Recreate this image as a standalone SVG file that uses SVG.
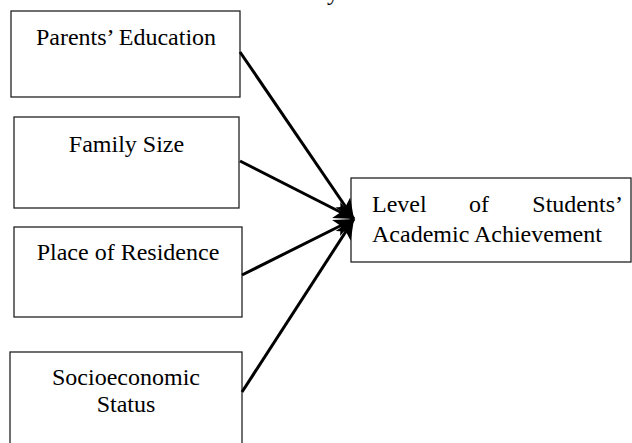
<svg xmlns="http://www.w3.org/2000/svg" width="632" height="443" viewBox="0 0 632 443">
<style>
  .box { fill: #ffffff; stroke: #222222; stroke-width: 1.3; }
  .t { font-family: "Liberation Serif", "Times New Roman", serif; font-size: 24px; fill: #000000; }
  .c { text-anchor: middle; }
  .conn { stroke: #000000; stroke-width: 3; fill: none; marker-end: url(#arr); }
</style>
<defs>
  <marker id="arr" markerUnits="userSpaceOnUse" markerWidth="22" markerHeight="20" refX="20" refY="10" orient="auto">
    <path d="M0,1 L20,10 L0,19 L5,10 Z" fill="#000000"/>
  </marker>
</defs>
<rect width="632" height="443" fill="#ffffff"/>
<text class="t" x="327" y="0">y</text>

<g id="parents-education">
  <rect class="box" x="11" y="11" width="229" height="86"/>
  <text class="t c" x="126" y="45">Parents’ Education</text>
</g>
<g id="family-size">
  <rect class="box" x="14" y="117" width="225" height="91"/>
  <text class="t c" x="126.5" y="152">Family Size</text>
</g>
<g id="place-of-residence">
  <rect class="box" x="14" y="227" width="228" height="90"/>
  <text class="t c" x="128" y="260">Place of Residence</text>
</g>
<g id="socioeconomic-status">
  <rect class="box" x="10" y="352" width="232" height="100"/>
  <text class="t c" x="126" y="385">Socioeconomic</text>
  <text class="t c" x="126" y="412">Status</text>
</g>
<g id="academic-achievement">
  <rect class="box" x="351" y="178" width="280" height="84"/>
  <text class="t" y="212"><tspan x="372">Level</tspan><tspan x="469">of</tspan><tspan x="623" text-anchor="end">Students’</tspan></text>
  <text class="t" x="372" y="242">Academic Achievement</text>
</g>

<g id="connectors">
  <line class="conn" x1="240" y1="52" x2="354" y2="219"/>
  <line class="conn" x1="240" y1="161" x2="354" y2="219"/>
  <line class="conn" x1="242" y1="275" x2="354" y2="219"/>
  <line class="conn" x1="242" y1="392" x2="354" y2="219"/>
</g>
</svg>
